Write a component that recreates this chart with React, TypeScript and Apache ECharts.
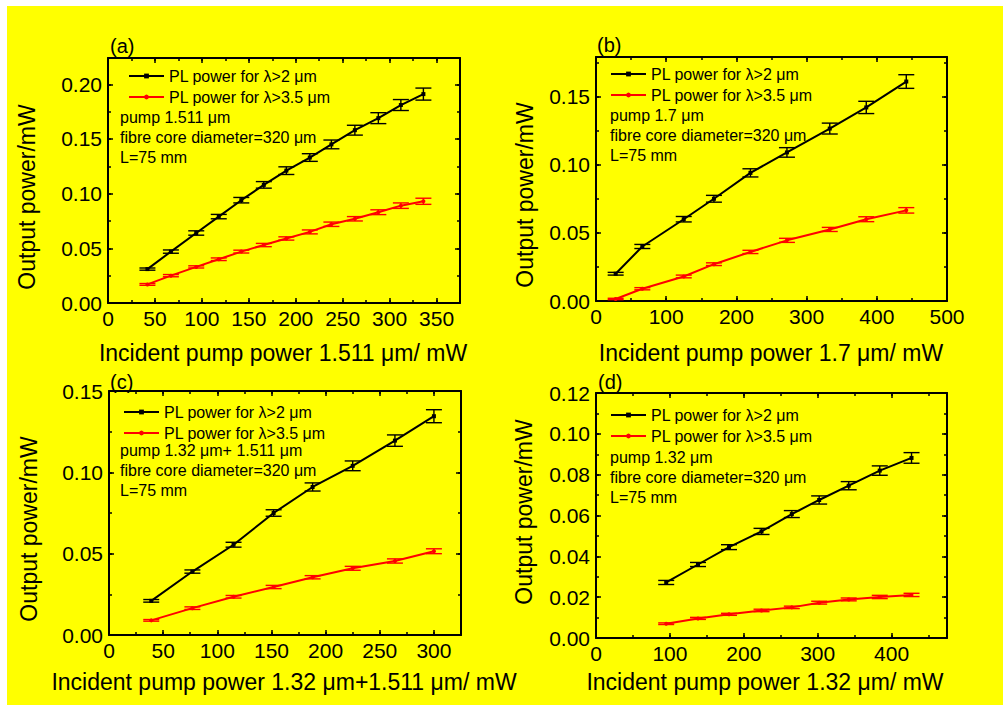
import React, { useEffect, useRef } from 'react';
import * as echarts from 'echarts';

const FONT = '"Liberation Sans", Arial, sans-serif';

// ---------- data ----------
const legendBlack = 'PL power for λ>2 μm';
const legendRed = 'PL power for λ>3.5 μm';

// panel (a)
const aX = [42, 67, 94, 118, 142, 166, 190, 215, 238, 263, 288, 312, 336];
const aBlack = [0.031, 0.047, 0.064, 0.079, 0.094, 0.108, 0.121, 0.133, 0.145, 0.158, 0.169, 0.181, 0.191];
const aBlackErr = [0.001, 0.0015, 0.002, 0.002, 0.0025, 0.003, 0.0035, 0.0035, 0.004, 0.0045, 0.005, 0.005, 0.0055];
const aRed = [0.017, 0.025, 0.033, 0.04, 0.047, 0.053, 0.059, 0.065, 0.072, 0.077, 0.083, 0.089, 0.093];
const aRedErr = [0.0008, 0.001, 0.001, 0.0012, 0.0013, 0.0015, 0.0015, 0.0018, 0.002, 0.002, 0.0022, 0.0025, 0.0028];

// panel (b)
const bX = [28, 66, 125, 168, 220, 272, 333, 385, 442];
const bBlack = [0.02, 0.04, 0.06, 0.075, 0.094, 0.109, 0.1265, 0.142, 0.161];
const bBlackErr = [0.001, 0.0015, 0.002, 0.0025, 0.003, 0.0035, 0.004, 0.0045, 0.005];
const bRed = [0.0015, 0.009, 0.018, 0.027, 0.036, 0.0445, 0.0525, 0.06, 0.0665];
const bRedErr = [0.0005, 0.0008, 0.001, 0.001, 0.0012, 0.0015, 0.0015, 0.0018, 0.002];

// panel (c)
const cX = [39, 77, 115, 152, 188, 225, 264, 300];
const cBlack = [0.021, 0.039, 0.0555, 0.075, 0.091, 0.104, 0.1195, 0.1345];
const cBlackErr = [0.0008, 0.001, 0.0015, 0.002, 0.0025, 0.003, 0.0035, 0.004];
const cRed = [0.009, 0.0165, 0.0235, 0.0295, 0.0355, 0.041, 0.0455, 0.0515];
const cRedErr = [0.0005, 0.0008, 0.0008, 0.001, 0.001, 0.0012, 0.0013, 0.0015];

// panel (d)
const dX = [95, 138, 180, 224, 265, 302, 342, 384, 427];
const dBlack = [0.0272, 0.036, 0.0445, 0.0522, 0.0607, 0.0676, 0.0746, 0.082, 0.0882];
const dBlackErr = [0.001, 0.001, 0.0012, 0.0015, 0.0017, 0.002, 0.002, 0.0023, 0.0026];
const dRed = [0.007, 0.0096, 0.0116, 0.0135, 0.015, 0.0173, 0.0189, 0.0201, 0.0211];
const dRedErr = [0.0004, 0.0005, 0.0005, 0.0006, 0.0006, 0.0007, 0.0007, 0.0008, 0.0008];

// ---------- panel configuration ----------
const panels = [
  {
    label: '(a)', x: aX, black: aBlack, blackErr: aBlackErr, red: aRed, redErr: aRedErr,
    xMax: 375, xInt: 50, yMax: 0.224, yInt: 0.05,
    grid: { left: 108, top: 58, width: 352, height: 245 },
    labelPos: [110, 46],
    legendPos: [128, 68],
    notes: ['pump 1.511 μm', 'fibre core diameter=320 μm', 'L=75 mm'],
    notesPos: [120, 117],
    xTitle: 'Incident pump power 1.511 μm/ mW', xTitlePos: [283, 353],
    yTitlePos: [27, 197],
  },
  {
    label: '(b)', x: bX, black: bBlack, blackErr: bBlackErr, red: bRed, redErr: bRedErr,
    xMax: 500, xInt: 100, yMax: 0.179, yInt: 0.05,
    grid: { left: 596, top: 57, width: 351, height: 244 },
    labelPos: [597, 45],
    legendPos: [610, 66],
    notes: ['pump 1.7 μm', 'fibre core diameter=320 μm', 'L=75 mm'],
    notesPos: [610, 115],
    xTitle: 'Incident pump power 1.7 μm/ mW', xTitlePos: [771, 353],
    yTitlePos: [525, 195],
  },
  {
    label: '(c)', x: cX, black: cBlack, blackErr: cBlackErr, red: cRed, redErr: cRedErr,
    xMax: 325, xInt: 50, yMax: 0.15, yInt: 0.05,
    grid: { left: 109, top: 391, width: 352, height: 244 },
    labelPos: [110, 382],
    legendPos: [123, 404],
    notes: ['pump 1.32 μm+ 1.511 μm', 'fibre core diameter=320 μm', 'L=75 mm'],
    notesPos: [120, 450],
    xTitle: 'Incident pump power 1.32 μm+1.511 μm/ mW', xTitlePos: [284, 682],
    yTitlePos: [29, 529],
  },
  {
    label: '(d)', x: dX, black: dBlack, blackErr: dBlackErr, red: dRed, redErr: dRedErr,
    xMax: 475, xInt: 100, yMax: 0.12, yInt: 0.02,
    grid: { left: 596, top: 393, width: 351, height: 245 },
    labelPos: [598, 382],
    legendPos: [610, 407],
    notes: ['pump 1.32 μm', 'fibre core diameter=320 μm', 'L=75 mm'],
    notesPos: [610, 457],
    xTitle: 'Incident pump power 1.32 μm/ mW', xTitlePos: [765, 682],
    yTitlePos: [524, 512],
  },
];

const isMultiple = (v: number, step: number) => Math.abs(v / step - Math.round(v / step)) < 1e-6;

function errRender(color: string) {
  return (params: any, api: any) => {
    const x = api.value(0);
    const y = api.value(1);
    const e = api.value(2);
    const top = api.coord([x, y + e]);
    const bot = api.coord([x, y - e]);
    const hw = 8;
    const style = { stroke: color, lineWidth: 1.4 };
    return {
      type: 'group',
      children: [
        { type: 'line', shape: { x1: top[0], y1: top[1], x2: bot[0], y2: bot[1] }, style },
        { type: 'line', shape: { x1: top[0] - hw, y1: top[1], x2: top[0] + hw, y2: top[1] }, style },
        { type: 'line', shape: { x1: bot[0] - hw, y1: bot[1], x2: bot[0] + hw, y2: bot[1] }, style },
      ],
    };
  };
}

function buildOption() {
  const grid: any[] = [];
  const xAxis: any[] = [];
  const yAxis: any[] = [];
  const series: any[] = [];
  const legend: any[] = [];
  const graphic: any[] = [];

  const lineStyle = { color: '#000', width: 2 };
  const tickStyle = { color: '#000', width: 1.5 };

  panels.forEach((p, i) => {
    grid.push({ ...p.grid, containLabel: false });

    const xi = xAxis.length;
    const yi = yAxis.length;

    const xBase = { type: 'value', gridIndex: i, min: 0, max: p.xMax, splitLine: { show: false } };
    const yBase = { type: 'value', gridIndex: i, min: 0, max: p.yMax, splitLine: { show: false } };

    // bottom major (labelled)
    xAxis.push({
      ...xBase, position: 'bottom', interval: p.xInt,
      axisLine: { show: true, onZero: false, lineStyle },
      axisTick: { show: true, inside: true, length: 5, lineStyle: tickStyle },
      axisLabel: {
        show: true, margin: 5, fontSize: 21, fontFamily: FONT, color: '#000',
        showMinLabel: true, showMaxLabel: isMultiple(p.xMax, p.xInt),
        formatter: (v: number) => (isMultiple(v, p.xInt) ? String(Math.round(v)) : ''),
      },
    });
    // bottom minor
    xAxis.push({
      ...xBase, position: 'bottom', interval: p.xInt / 2,
      axisLine: { show: false, onZero: false },
      axisTick: { show: true, inside: true, length: 3, lineStyle: tickStyle },
      axisLabel: { show: false },
    });
    // top major
    xAxis.push({
      ...xBase, position: 'top', interval: p.xInt,
      axisLine: { show: true, onZero: false, lineStyle },
      axisTick: { show: true, inside: true, length: 5, lineStyle: tickStyle },
      axisLabel: { show: false },
    });
    // top minor
    xAxis.push({
      ...xBase, position: 'top', interval: p.xInt / 2,
      axisLine: { show: false, onZero: false },
      axisTick: { show: true, inside: true, length: 3, lineStyle: tickStyle },
      axisLabel: { show: false },
    });

    // left major (labelled)
    yAxis.push({
      ...yBase, position: 'left', interval: p.yInt,
      axisLine: { show: true, onZero: false, lineStyle },
      axisTick: { show: true, inside: true, length: 5, lineStyle: tickStyle },
      axisLabel: {
        show: true, margin: 6, fontSize: 21, fontFamily: FONT, color: '#000',
        showMinLabel: true, showMaxLabel: isMultiple(p.yMax, p.yInt),
        formatter: (v: number) => (isMultiple(v, p.yInt) ? v.toFixed(2) : ''),
      },
    });
    // left minor
    yAxis.push({
      ...yBase, position: 'left', interval: p.yInt / 2,
      axisLine: { show: false, onZero: false },
      axisTick: { show: true, inside: true, length: 3, lineStyle: tickStyle },
      axisLabel: { show: false },
    });
    // right major
    yAxis.push({
      ...yBase, position: 'right', interval: p.yInt,
      axisLine: { show: true, onZero: false, lineStyle },
      axisTick: { show: true, inside: true, length: 5, lineStyle: tickStyle },
      axisLabel: { show: false },
    });
    // right minor
    yAxis.push({
      ...yBase, position: 'right', interval: p.yInt / 2,
      axisLine: { show: false, onZero: false },
      axisTick: { show: true, inside: true, length: 3, lineStyle: tickStyle },
      axisLabel: { show: false },
    });

    series.push({
      type: 'line', name: legendBlack, xAxisIndex: xi, yAxisIndex: yi,
      data: p.x.map((x, k) => [x, p.black[k]]),
      symbol: 'rect', symbolSize: 4,
      itemStyle: { color: '#000' }, lineStyle: { color: '#000', width: 2 }, z: 3,
    });
    series.push({
      type: 'line', name: legendRed, xAxisIndex: xi, yAxisIndex: yi,
      data: p.x.map((x, k) => [x, p.red[k]]),
      symbol: 'circle', symbolSize: 4,
      itemStyle: { color: '#FF0000' }, lineStyle: { color: '#FF0000', width: 2 }, z: 3,
    });
    series.push({
      type: 'custom', xAxisIndex: xi, yAxisIndex: yi,
      data: p.x.map((x, k) => [x, p.black[k], p.blackErr[k]]),
      encode: { x: 0, y: 1 }, renderItem: errRender('#000'), z: 4, silent: true,
    });
    series.push({
      type: 'custom', xAxisIndex: xi, yAxisIndex: yi,
      data: p.x.map((x, k) => [x, p.red[k], p.redErr[k]]),
      encode: { x: 0, y: 1 }, renderItem: errRender('#FF0000'), z: 4, silent: true,
    });

    legend.push({
      orient: 'vertical', left: p.legendPos[0], top: p.legendPos[1], padding: 0,
      itemGap: 5, itemWidth: 35, itemHeight: 6, selectedMode: false,
      textStyle: { fontSize: 16, fontFamily: FONT, color: '#000' },
      data: [legendBlack, legendRed],
    });

    graphic.push({
      type: 'text', x: p.labelPos[0], y: p.labelPos[1],
      style: { text: p.label, font: `20px ${FONT}`, fill: '#000', textAlign: 'left', textVerticalAlign: 'middle', align: 'left', verticalAlign: 'middle' },
    });
    p.notes.forEach((t, k) => {
      graphic.push({
        type: 'text', x: p.notesPos[0], y: p.notesPos[1] + k * 20,
        style: { text: t, font: `16px ${FONT}`, fill: '#000', textAlign: 'left', textVerticalAlign: 'middle', align: 'left', verticalAlign: 'middle' },
      });
    });
    graphic.push({
      type: 'text', x: p.xTitlePos[0], y: p.xTitlePos[1],
      style: { text: p.xTitle, font: `23px ${FONT}`, fill: '#000', textAlign: 'center', textVerticalAlign: 'middle', align: 'center', verticalAlign: 'middle' },
    });
    graphic.push({
      type: 'text', x: p.yTitlePos[0], y: p.yTitlePos[1], rotation: Math.PI / 2,
      style: { text: 'Output power/mW', font: `23px ${FONT}`, fill: '#000', textAlign: 'center', textVerticalAlign: 'middle', align: 'center', verticalAlign: 'middle' },
    });
  });

  // white page margins around the yellow figure
  graphic.push({ type: 'rect', shape: { x: 0, y: 0, width: 1003, height: 6 }, style: { fill: '#fff' } });
  graphic.push({ type: 'rect', shape: { x: 0, y: 0, width: 7, height: 705 }, style: { fill: '#fff' } });

  return {
    animation: false,
    backgroundColor: '#FFFF00',
    grid, xAxis, yAxis, series, legend, graphic,
  };
}

export default function App() {
  const ref = useRef<HTMLDivElement>(null);
  useEffect(() => {
    if (!ref.current) return;
    const chart = echarts.init(ref.current, undefined, { renderer: 'svg' });
    chart.setOption(buildOption() as any);
    return () => chart.dispose();
  }, []);
  return (
    <div
      ref={ref}
      style={{ position: 'absolute', left: 0, top: 0, width: 1003, height: 705 }}
    />
  );
}
